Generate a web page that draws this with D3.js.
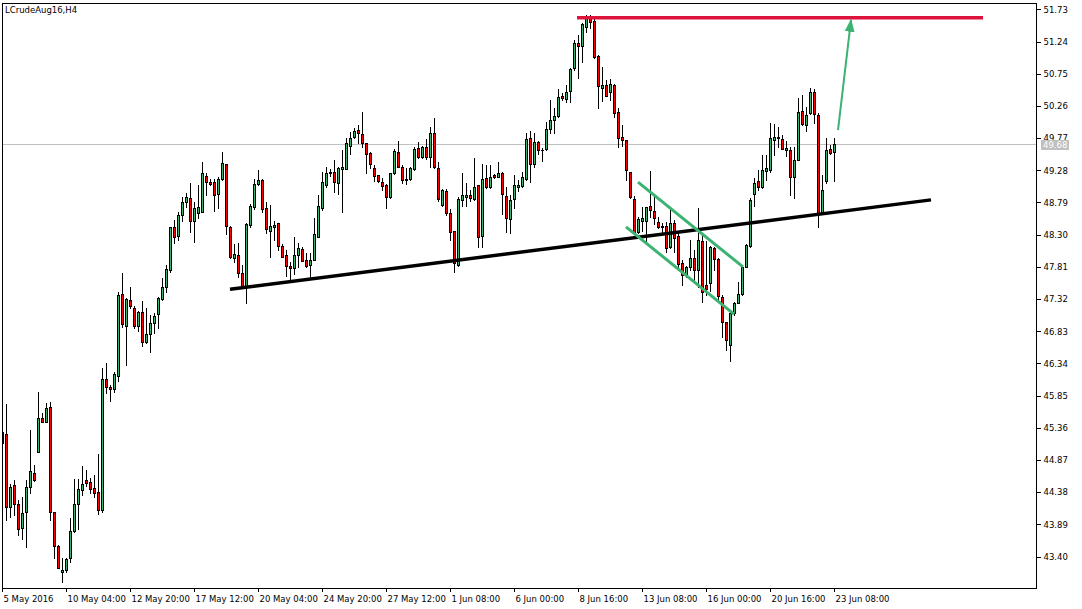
<!DOCTYPE html>
<html><head><meta charset="utf-8">
<script src="https://cdn.jsdelivr.net/npm/d3@7"></script>
<style>
html,body{margin:0;padding:0;background:#fff;}
svg{display:block;font-family:"DejaVu Sans",sans-serif;}
</style></head><body>
<svg id="c" width="1082" height="609"></svg>
<script>
const title = "LCrudeAug16,H4";
const opens = [45.13,45.27,44.16,44.49,44.20,43.84,44.08,44.46,44.67,44.99,
45.51,45.45,45.68,44.08,43.56,43.17,43.20,43.38,43.79,44.20,
44.41,44.57,44.54,44.44,44.38,44.11,46.10,45.98,45.95,46.15,
47.40,46.91,47.31,47.18,46.91,47.12,46.67,46.79,46.96,47.09,
47.32,47.50,47.76,48.42,48.28,48.60,48.80,48.86,48.51,48.63,
48.65,49.19,49.10,49.10,48.92,49.15,49.38,48.42,47.95,47.99,
47.72,47.50,48.45,48.72,49.07,49.13,48.71,48.36,48.42,48.48,
48.13,47.99,47.82,47.79,47.99,48.08,47.92,47.84,47.92,48.26,
48.71,49.06,49.24,49.25,49.09,49.30,49.30,49.65,49.79,49.89,
49.83,49.70,49.54,49.32,49.21,49.10,49.06,48.87,49.24,49.56,
49.33,49.15,49.15,49.30,49.62,49.48,49.63,49.48,49.85,49.32,
48.75,48.97,48.63,48.36,47.84,48.83,48.87,48.90,48.84,49.06,
48.28,49.16,49.03,49.21,49.18,49.24,48.89,48.54,48.84,49.03,
49.04,49.15,49.77,49.38,49.71,49.59,49.60,49.91,50.05,50.11,
50.41,50.37,50.49,50.84,51.22,51.17,51.46,51.60,51.55,51.02,
50.53,50.58,50.47,50.58,50.17,49.79,49.74,49.25,48.84,48.34,
48.51,48.51,48.74,48.66,48.49,48.43,48.43,48.11,48.48,48.28,
47.87,47.70,47.81,47.95,47.76,48.20,47.54,47.56,48.10,47.93,
47.35,46.97,46.62,47.11,47.26,47.40,47.81,48.13,48.92,49.12,
49.03,49.27,49.29,49.74,49.79,49.76,49.59,49.59,49.18,49.44,
50.18,49.97,50.15,50.47,50.12,48.63,49.12,49.60,49.56];
const highs = [45.36,45.72,44.51,44.57,44.26,44.31,44.57,45.33,44.80,45.91,
45.59,45.74,45.75,44.08,43.58,43.38,43.38,43.99,44.58,44.58,
44.78,44.72,44.60,44.64,44.96,46.27,46.35,46.01,46.21,47.43,
47.72,47.34,47.50,47.22,47.14,47.29,47.18,47.08,47.11,47.35,
47.64,47.84,48.42,48.52,48.65,48.87,48.93,49.09,48.80,49.06,
49.41,49.24,49.15,49.15,49.18,49.56,49.38,48.43,48.16,48.17,
47.84,48.48,48.77,49.15,49.29,49.15,48.80,48.75,48.51,48.48,
48.16,48.07,47.88,48.26,48.17,48.11,48.02,48.02,48.55,48.90,
49.25,49.33,49.30,49.44,49.33,49.59,49.77,49.86,49.92,49.97,
50.17,49.70,49.56,49.36,49.21,49.16,49.07,49.24,49.60,49.73,
49.36,49.32,49.33,49.63,49.71,49.65,49.76,49.94,50.08,49.41,
49.00,49.00,48.69,48.36,48.87,49.24,49.09,48.98,49.47,49.06,
49.38,49.36,49.36,49.22,49.41,49.25,49.03,48.90,49.21,49.13,
49.25,49.85,49.88,49.85,49.73,49.62,50.02,50.35,50.23,50.52,
50.46,50.58,50.84,51.26,51.34,51.52,51.64,51.64,51.60,51.04,
50.85,50.65,50.67,50.59,50.23,49.97,49.74,49.25,48.89,48.57,
48.72,48.72,49.27,48.87,48.57,48.48,48.49,48.68,48.52,48.33,
47.92,47.82,48.22,48.07,48.71,48.33,48.20,48.13,48.11,47.95,
47.38,46.97,47.12,47.28,47.58,47.84,48.16,48.86,49.16,49.29,
49.51,49.51,50.00,49.98,49.94,49.82,49.73,49.63,49.63,50.38,
50.43,50.24,50.53,50.52,50.15,49.21,49.77,49.66,49.77];
const lows = [45.10,43.96,44.00,44.03,43.73,43.67,43.55,44.37,44.55,44.99,
45.45,45.45,43.96,43.38,43.23,43.01,43.17,43.32,43.78,43.82,
44.34,44.48,44.37,44.31,44.05,44.08,45.89,45.77,45.91,46.07,
46.90,46.32,47.18,46.88,46.83,46.61,46.65,46.52,46.80,46.88,
47.31,47.43,47.73,48.17,48.22,48.51,48.72,48.34,48.19,48.55,
48.65,48.90,49.06,48.66,48.71,49.13,48.31,47.95,47.88,47.66,
47.50,47.26,48.42,48.69,49.06,48.65,48.33,47.96,48.22,48.07,
47.96,47.67,47.60,47.70,47.81,47.90,47.81,47.66,47.92,48.26,
48.68,49.03,49.19,48.95,48.92,48.65,49.30,49.53,49.77,49.70,
49.63,49.24,49.32,49.12,49.10,48.98,48.71,48.86,49.22,49.33,
49.09,49.07,49.13,49.29,49.47,49.47,49.45,49.33,49.32,48.81,
48.74,48.60,48.22,47.73,47.82,48.74,48.74,48.81,48.83,48.11,
48.11,49.01,49.01,49.16,49.18,48.61,48.34,48.33,48.71,48.97,
49.03,49.13,49.10,49.33,49.53,49.42,49.59,49.85,49.85,50.09,
50.35,50.32,50.32,50.81,50.69,50.93,51.39,51.45,50.99,50.23,
50.33,50.41,50.35,50.09,49.63,49.65,49.13,48.86,48.33,48.33,
48.36,48.19,48.57,48.46,48.40,48.31,48.04,48.10,48.04,47.76,
47.53,47.66,47.76,47.61,47.50,47.28,47.38,47.44,47.76,47.31,
46.74,46.55,46.38,47.08,47.26,47.38,47.81,48.11,48.74,48.98,
49.01,49.13,49.25,49.51,49.63,49.60,49.50,48.90,48.86,49.44,
49.97,49.88,50.14,50.00,48.42,48.63,49.09,49.53,49.12];
const closes = [45.30,44.16,44.46,44.20,43.82,44.06,44.46,44.70,44.57,45.51,
45.45,45.66,44.08,43.56,43.23,43.20,43.36,43.79,44.20,44.43,
44.51,44.52,44.43,44.37,44.11,46.10,45.98,45.95,46.18,47.38,
46.94,47.32,47.22,46.91,47.12,46.67,46.79,46.96,47.06,47.34,
47.50,47.78,48.42,48.26,48.60,48.80,48.87,48.51,48.71,48.72,
49.24,49.10,49.07,48.90,49.15,49.39,48.43,47.96,48.01,47.72,
47.50,48.46,48.74,49.07,49.13,48.69,48.39,48.43,48.45,48.13,
47.96,47.82,47.79,47.99,48.10,47.90,47.82,47.92,48.31,48.74,
49.10,49.24,49.25,49.10,49.32,49.33,49.70,49.77,49.88,49.85,
49.70,49.53,49.38,49.19,49.12,49.04,48.87,49.24,49.57,49.33,
49.13,49.13,49.32,49.60,49.48,49.63,49.48,49.85,49.33,48.84,
48.98,48.63,48.34,47.87,48.84,48.90,48.90,48.86,49.03,48.26,
49.15,49.03,49.18,49.18,49.24,48.92,48.55,48.83,49.06,49.06,
49.18,49.76,49.38,49.71,49.59,49.59,49.91,50.05,50.11,50.40,
50.38,50.47,50.82,51.22,51.17,51.51,51.60,51.54,51.00,50.56,
50.58,50.41,50.59,50.15,49.77,49.74,49.29,48.87,48.34,48.54,
48.55,48.72,48.68,48.55,48.42,48.42,48.10,48.48,48.25,47.85,
47.69,47.81,47.95,47.76,48.22,47.43,47.47,48.11,47.93,47.37,
46.97,46.70,47.11,47.26,47.40,47.81,48.14,48.83,49.09,49.03,
49.29,49.32,49.77,49.79,49.77,49.60,49.62,49.18,49.44,50.17,
49.98,50.12,50.47,50.14,48.63,48.98,49.59,49.54,49.68];
const priceTicks = [51.73,51.24,50.75,50.26,49.77,49.28,48.79,48.30,47.81,47.32,46.83,46.34,45.85,45.36,44.87,44.38,43.89,43.40];
const timeTickBars = [0,16,32,48,64,80,96,112,128,144,160,176,192,208];
const timeTickLabels = ["5 May 2016","10 May 04:00","12 May 20:00","17 May 12:00","20 May 04:00","24 May 20:00","27 May 12:00","1 Jun 08:00","6 Jun 00:00","8 Jun 16:00","13 Jun 08:00","16 Jun 00:00","20 Jun 16:00","23 Jun 08:00"];
const lastPrice = 49.68;
// hand-drawn analysis objects (bar index, price)
const supportBars = [57, 232.25], supportPrices = [47.47, 48.83];
const resistBars = [143.75, 245.25], resistPrices = [51.60, 51.60];
const chanUpBars = [159, 185.25], chanUpPrices = [49.10, 47.81];
const chanLoBars = [156, 183], chanLoPrices = [48.42, 47.09];
const arrowBars = [209, 212.25], arrowPrices = [49.89, 51.57];

const svg = d3.select("#c");
const L = 2, R = 1036, T = 3, B = 588;
const x = d3.scaleLinear().domain([0, 258.5]).range([L, R]);
const y = d3.scaleLinear().domain([42.923, 51.826]).range([B, T]);
const FS = 8.5;

svg.append("defs").append("clipPath").attr("id","clip")
  .append("rect").attr("x",L).attr("y",T).attr("width",R-L).attr("height",B-T);
svg.select("defs").append("marker").attr("id","ah")
  .attr("markerUnits","userSpaceOnUse").attr("viewBox","0 -6 14 12")
  .attr("markerWidth",14).attr("markerHeight",12).attr("refX",12).attr("refY",0)
  .attr("orient","auto")
  .append("path").attr("d","M0,-5L13,0L0,5Z").attr("fill","#3cb371");

const plot = svg.append("g").attr("clip-path","url(#clip)");

// current price line
plot.append("line").attr("x1",L).attr("x2",R)
  .attr("y1",Math.round(y(lastPrice))+0.5).attr("y2",Math.round(y(lastPrice))+0.5)
  .attr("stroke","#c0c0c0").attr("stroke-width",1);

// candles
const idx = d3.range(closes.length);
const cg = plot.append("g").attr("shape-rendering","crispEdges");
idx.forEach(i => {
  const cx = Math.round(x(i));
  const yh = Math.round(y(highs[i])), yl = Math.round(y(lows[i]));
  const o = opens[i], c = closes[i];
  const yt = Math.round(y(Math.max(o,c))), yb = Math.round(y(Math.min(o,c)));
  cg.append("rect").attr("x",cx).attr("width",1).attr("y",yh).attr("height",yl-yh+1).attr("fill","#000");
  cg.append("rect").attr("x",cx-1).attr("width",3).attr("y",yt).attr("height",Math.max(1,yb-yt+1)).attr("fill","#000");
  if (yb-yt-1 > 0) {
    cg.append("rect").attr("x",cx).attr("width",1).attr("y",yt+1).attr("height",yb-yt-1)
      .attr("fill", c >= o ? "#3cb371" : "#ff0000");
  }
});

const line = d3.line().x(d=>x(d[0])).y(d=>y(d[1]));
function seg(bars, prices, color, w, marker){
  const p = plot.append("path").datum(d3.zip(bars, prices)).attr("d", line)
    .attr("fill","none").attr("stroke",color).attr("stroke-width",w);
  if (marker) p.attr("marker-end", marker);
}
seg(supportBars, supportPrices, "#000", 3.5);
seg(chanUpBars, chanUpPrices, "#3cb371", 3);
seg(chanLoBars, chanLoPrices, "#3cb371", 3);
seg(resistBars, resistPrices, "#dc143c", 3.5);
seg(arrowBars, arrowPrices, "#3cb371", 2, "url(#ah)");

// frame
svg.append("rect").attr("x",L+0.5).attr("y",T+0.5).attr("width",R-L).attr("height",B-T)
  .attr("fill","none").attr("stroke","#000").attr("stroke-width",1).attr("shape-rendering","crispEdges");

// y axis
const ya = svg.append("g").attr("transform",`translate(${R+0.5},0)`)
  .call(d3.axisRight(y).tickValues(priceTicks).tickSize(4).tickPadding(3).tickFormat(d=>d.toFixed(2)));
ya.select(".domain").remove();
ya.selectAll("line").attr("stroke","#000").attr("shape-rendering","crispEdges");
ya.selectAll("text").attr("font-size",FS).attr("fill","#000").attr("font-family","DejaVu Sans");

// last price label (covers the nearby tick label, as in the terminal)
const lpY = Math.round(y(lastPrice));
svg.append("rect").attr("x",R+5).attr("y",lpY-4).attr("width",28).attr("height",10).attr("fill","#c0c0c0");
svg.append("text").attr("x",R+7).attr("y",lpY+1).attr("dy","0.35em").attr("font-size",FS)
  .attr("fill","#fff").text(lastPrice.toFixed(2));

// x axis
const xa = svg.append("g").attr("transform",`translate(0,${B+0.5})`)
  .call(d3.axisBottom(x).tickValues(timeTickBars).tickSize(3).tickPadding(4)
    .tickFormat((d,i)=>timeTickLabels[i]));
xa.select(".domain").remove();
xa.selectAll("line").attr("stroke","#000").attr("shape-rendering","crispEdges");
xa.selectAll("text").attr("text-anchor","start").attr("dx",1).attr("font-size",FS)
  .attr("fill","#000").attr("font-family","DejaVu Sans");

// title
svg.append("text").attr("x",5).attr("y",13).attr("font-size",FS).attr("fill","#000").text(title);
</script>
</body></html>
